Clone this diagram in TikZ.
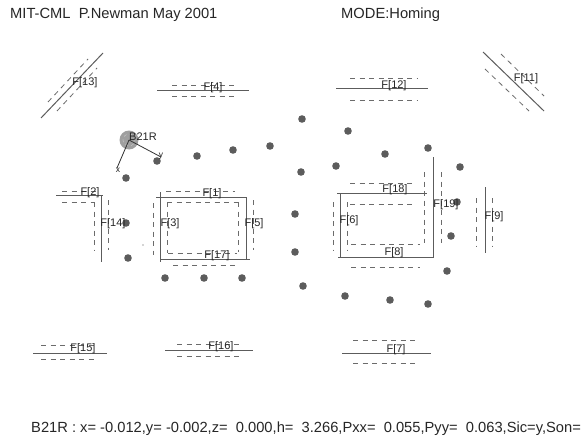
\documentclass[tikz,border=0pt]{standalone}
\usepackage{fontspec}
\setmainfont{Liberation Sans}
\definecolor{wall}{gray}{0.36}
\definecolor{dash}{gray}{0.42}
\definecolor{beacon}{gray}{0.36}
\tikzset{
  wallline/.style={draw=wall,line width=1pt},
  wallband/.style={draw=dash,line width=0.8pt,dash pattern=on 5pt off 4.5pt},
  beacondot/.style={fill=beacon,draw=none},
  flabel/.style={font=\fontsize{11}{12}\selectfont,inner sep=0pt,text=black!85},
  headtext/.style={font=\fontsize{14.7}{17}\selectfont,inner sep=0pt,anchor=west,text=black!85}
}
\newcommand{\feat}[5]{%
  \draw[wallline] #1 -- #2;
  \node[flabel] (#5) at (#3,#4) {#5};
}
\begin{document}
\begin{tikzpicture}[x=1pt,y=-1pt]
\useasboundingbox[fill=white] (0,0) rectangle (583,441);
\begin{scope}
\clip (0,0) rectangle (583,441);
\node[headtext] (title) at (10,15) {MIT-CML~~P.Newman May 2001};
\node[headtext] (mode) at (341,15) {MODE:Homing};
\node[headtext] (status) at (31,429) {B21R : x= -0.012,y= -0.002,z=~~0.000,h=~~3.266,Pxx=~~0.055,Pyy=~~0.063,Sic=y,Son=};
\end{scope}
% dashed bands
\foreach \a/\b/\c/\d in {
 48/102/88/59, 57/111/97/68,
 172/85/234/85, 172/96/234/96,
 350/78/418/78, 350/100/418/100,
 501/54/544/96, 485/69/529/111,
 62/191/97/191, 62/202/95/202,
 94/202/94/250, 108/200/108/250,
 166/191/235/191, 167/202/238/202,
 153/203/153/255, 167/202/167/253,
 238/202/238/252, 253/200/253/250,
 168/253/237/253, 173/265/235/265,
 350/183/413/183, 350/204/413/204,
 333/202/333/250, 347/202/347/250,
 351/244/420/244, 351/267/420/267,
 424/172/424/243, 441/172/441/243,
 476/198/476/247, 492/198/492/247,
 41/345/94/345, 41/359/94/359,
 177/344/240/344, 177/356/240/356,
 353/340/418/340, 353/363/418/363}
 {\draw[wallband] (\a,\b) -- (\c,\d);}
% beacons
\foreach \p/\q in {
 157/161,126/178,197/156,233/150,270/146,302/119,348/131,385/154,428/148,
 301/172,336/166,460/167,126/223,128/258,165/278,204/278,242/278,
 295/214,295/252,303/286,345/296,390/300,428/304,447/271,451/236,457/202}
 {\fill[beacondot] (\p,\q) circle (3.8pt);}
\fill[black!70] (143,245) circle (0.7pt);
% walls with labels
\feat{(41,118)}{(103,53)}{85}{83}{F[13]}
\feat{(157,91)}{(249,91)}{213}{88}{F[4]}
\feat{(336,89)}{(428,89)}{394}{86}{F[12]}
\feat{(483,52)}{(544,111)}{526}{79}{F[11]}
\feat{(56,195)}{(103,195)}{90}{193}{F[2]}
\feat{(101,195)}{(101,262)}{113}{224}{F[14]}
\feat{(156,197)}{(247,197)}{212}{194}{F[1]}
\feat{(160,192)}{(160,262)}{170}{224}{F[3]}
\feat{(246,197)}{(246,259)}{254}{224}{F[5]}
\feat{(160,259)}{(250,259)}{217}{256}{F[17]}
\feat{(337,193)}{(427,193)}{395}{190}{F[18]}
\feat{(340,193)}{(340,257)}{349}{221}{F[6]}
\feat{(338,257)}{(433,257)}{394}{253}{F[8]}
\feat{(433,157)}{(433,258)}{446}{205}{F[19]}
\feat{(485,187)}{(485,253)}{494}{217}{F[9]}
\feat{(33,353)}{(107,353)}{83}{349}{F[15]}
\feat{(165,350)}{(253,350)}{221}{347}{F[16]}
\feat{(342,353)}{(431,353)}{396}{350}{F[7]}
% vehicle
\coordinate (robot) at (129,140);
\coordinate (xend) at (117,168);
\coordinate (yend) at (161,157);
\fill[gray!75] (robot) circle (9.5pt);
\draw[gray!45,line width=0.5pt,dashed] (robot) circle (6pt);
\draw[black!80,line width=0.8pt] (robot) -- (xend);
\draw[black!80,line width=0.8pt] (robot) -- (yend);
\node[flabel,font=\fontsize{8.5}{9}\selectfont] (xlab) at (118,170) {x};
\node[flabel,font=\fontsize{8.5}{9}\selectfont] (ylab) at (161,156) {y};
\node[flabel,anchor=west] (b21r) at (129,137) {B21R};
\end{tikzpicture}
\end{document}
